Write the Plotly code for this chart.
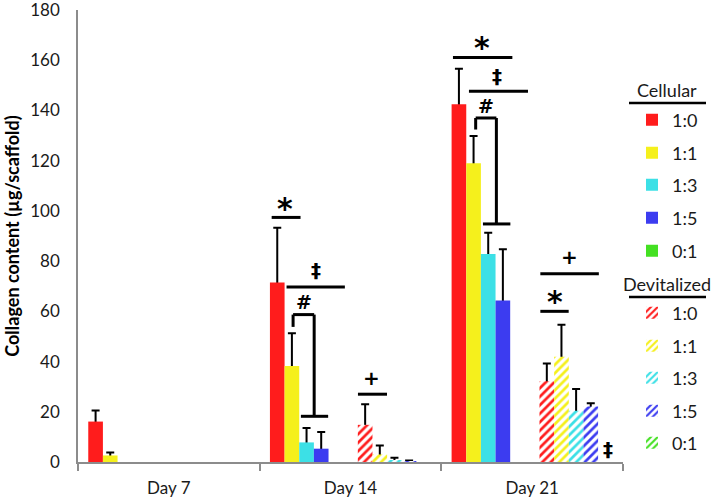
import plotly.graph_objects as go

# ---------------- data ----------------
days = ["Day 7", "Day 14", "Day 21"]
ratios = ["1:0", "1:1", "1:3", "1:5", "0:1"]

cell_10 = [16.1, 71.5, 142.5]
cell_11 = [2.6, 38.2, 119.0]
cell_13 = [0, 7.8, 82.8]
cell_15 = [0, 5.3, 64.3]
cell_01 = [0, 0, 0]

cell_10_sd = [4.4, 21.8, 14.1]
cell_11_sd = [1.2, 13.1, 10.8]
cell_13_sd = [0, 5.7, 8.5]
cell_15_sd = [0, 6.6, 20.4]
cell_01_sd = [0, 0, 0]

dev_10 = [0, 14.8, 32.2]
dev_11 = [0, 3.0, 41.9]
dev_13 = [0, 0.5, 20.4]
dev_15 = [0, 0.3, 22.1]
dev_01 = [0, 0, 0]

dev_10_sd = [0, 8.2, 7.0]
dev_11_sd = [0, 3.6, 12.8]
dev_13_sd = [0, 1.2, 8.7]
dev_15_sd = [0, 0.3, 1.3]
dev_01_sd = [0, 0, 0]

colors = ["#ff1c1c", "#f5f01c", "#3ce0e6", "#3c3cf0", "#44e022"]

cellular = [cell_10, cell_11, cell_13, cell_15, cell_01]
cellular_sd = [cell_10_sd, cell_11_sd, cell_13_sd, cell_15_sd, cell_01_sd]
devital = [dev_10, dev_11, dev_13, dev_15, dev_01]
devital_sd = [dev_10_sd, dev_11_sd, dev_13_sd, dev_15_sd, dev_01_sd]

FONT = "Lato, 'Open Sans', sans-serif"
TXT = "#1a1a1a"
GRID = "#8c8c8c"

fig = go.Figure()

L, R, T, B = 78, 91, 10, 40
W, H = 714, 502
PW, PH = W - L - R, H - T - B


def cx(px):
    return px / W


def cy(py):
    return 1 - py / H


def px_x(px):
    return (px - L) / PW


def px_y(py):
    return (H - B - py) / PH


def add_series(vals, sds, color, group, name, legend_id, hatched):
    # error-bar carrier (drawn first, covered below bar top by the real bar)
    ey = [v if s > 0 else None for v, s in zip(vals, sds)]
    fig.add_trace(go.Bar(
        x=days, y=ey, offsetgroup=group, showlegend=False, hoverinfo="skip",
        marker=dict(color="rgba(0,0,0,0)", line=dict(width=0)),
        error_y=dict(type="data", symmetric=False, array=sds,
                     arrayminus=[v * 0.5 for v in vals],
                     color="black", thickness=2, width=4),
    ))
    marker = dict(color=color, line=dict(width=0))
    if hatched:
        marker = dict(color="white", line=dict(width=0),
                      pattern=dict(shape="/", fgcolor=color, bgcolor="white",
                                   size=6, solidity=0.45, fillmode="replace",
                                   fgopacity=1))
    fig.add_trace(go.Bar(
        x=days, y=vals, offsetgroup=group, name=name, legend=legend_id,
        marker=marker, hoverinfo="skip",
    ))


legend_ids = ["legend"] + ["legend%d" % i for i in range(2, 11)]

for i in range(5):
    add_series(cellular[i], cellular_sd[i], colors[i], "c%d" % i, ratios[i],
               legend_ids[i], False)

# spacer slot between the two families
fig.add_trace(go.Bar(x=days, y=[0, 0, 0], offsetgroup="gap", showlegend=False,
                     marker=dict(color="rgba(0,0,0,0)", line=dict(width=0)),
                     hoverinfo="skip"))

for i in range(5):
    add_series(devital[i], devital_sd[i], colors[i], "d%d" % i, ratios[i],
               legend_ids[5 + i], True)

# ---------------- legends ----------------
leg_y_px = [120, 153, 185, 218, 251, 313, 346, 378, 411, 443]
layout_legends = {}
for lid, ypx in zip(legend_ids, leg_y_px):
    layout_legends[lid] = dict(
        xref="container", yref="container",
        x=cx(632), xanchor="left", y=cy(ypx), yanchor="middle",
        font=dict(family=FONT, size=18, color=TXT),
        bgcolor="rgba(0,0,0,0)", borderwidth=0, itemwidth=30,
        tracegroupgap=0,
    )

# ---------------- significance marks ----------------
shapes = []
annotations = []


def hline(x0, x1, y):
    shapes.append(dict(type="line", xref="x", yref="y", x0=x0, x1=x1, y0=y, y1=y,
                       line=dict(color="black", width=3)))


def vline(x, y0, y1):
    shapes.append(dict(type="line", xref="x", yref="y", x0=x, x1=x, y0=y0, y1=y1,
                       line=dict(color="black", width=3)))


def mark(txt, x, y, size):
    annotations.append(dict(text="<b>%s</b>" % txt, x=x, y=y, xref="x", yref="y",
                            showarrow=False, xanchor="center", yanchor="middle",
                            font=dict(family="DejaVu Sans", size=size, color="black")))


# Day 14
hline(0.566, 0.725, 97.4); mark("*", 0.639, 101.0, 30)
hline(0.648, 0.969, 69.7); mark("‡", 0.809, 76.3, 20)
mark("#", 0.743, 63.7, 19)
hline(0.684, 0.800, 58.7); vline(0.684, 58.7, 53.8); vline(0.800, 58.7, 18.2)
hline(0.727, 0.877, 18.2)
hline(1.041, 1.201, 27.0); mark("+", 1.116, 33.4, 20)

# Day 21
hline(1.564, 1.891, 161.1); mark("*", 1.726, 165.0, 30)
hline(1.652, 1.977, 147.6); mark("‡", 1.806, 153.6, 20)
mark("#", 1.748, 141.6, 19)
hline(1.689, 1.803, 137.0); vline(1.689, 137.0, 132.4); vline(1.803, 137.0, 94.8)
hline(1.729, 1.880, 94.8)
hline(2.045, 2.367, 75.0); mark("+", 2.206, 81.6, 20)
hline(2.045, 2.201, 60.0); mark("*", 2.124, 64.0, 30)
mark("‡", 2.417, 5.0, 20)

# legend headers with underlines (positioned in page pixels)
for label, ty, uy in [("Cellular", 90, 103), ("Devitalized", 284, 297)]:
    annotations.append(dict(text=label, x=px_x(667), y=px_y(ty), xref="paper",
                            yref="paper", showarrow=False, xanchor="center",
                            yanchor="middle",
                            font=dict(family=FONT, size=18, color=TXT)))
    shapes.append(dict(type="line", xref="paper", yref="paper",
                       x0=px_x(629), x1=px_x(706), y0=px_y(uy), y1=px_y(uy),
                       line=dict(color="black", width=2.5)))

fig.update_layout(
    width=W, height=H,
    margin=dict(l=L, r=R, t=T, b=B, pad=0, autoexpand=False),
    paper_bgcolor="white", plot_bgcolor="white",
    barmode="group", bargap=0.113, bargroupgap=0,
    showlegend=True,
    shapes=shapes, annotations=annotations,
    font=dict(family=FONT, color=TXT),
    **layout_legends,
)

fig.update_xaxes(
    type="category", range=[-0.5, 2.5], showline=True, linecolor=GRID, linewidth=1.5,
    ticks="outside", tickson="boundaries", ticklen=7, tickcolor=GRID, tickwidth=1.5,
    showgrid=False, zeroline=False, automargin=False,
    tickfont=dict(family=FONT, size=17, color=TXT), ticklabelstandoff=10,
)
fig.update_yaxes(
    range=[0, 180], dtick=20, showline=True, linecolor=GRID, linewidth=1.5,
    ticks="", showgrid=False, zeroline=False, automargin=False,
    ticklabeloverflow="allow",
    tickfont=dict(family=FONT, size=17, color=TXT), ticklabelstandoff=13,
    title=dict(text="<b>Collagen content (µg/scaffold)</b>", standoff=6,
               font=dict(family=FONT, size=18, color="black")),
)

fig.write_html("out.html",
               config={"displayModeBar": False},
               post_script="document.body.style.margin='0';"
                           "document.body.style.padding='0';")
